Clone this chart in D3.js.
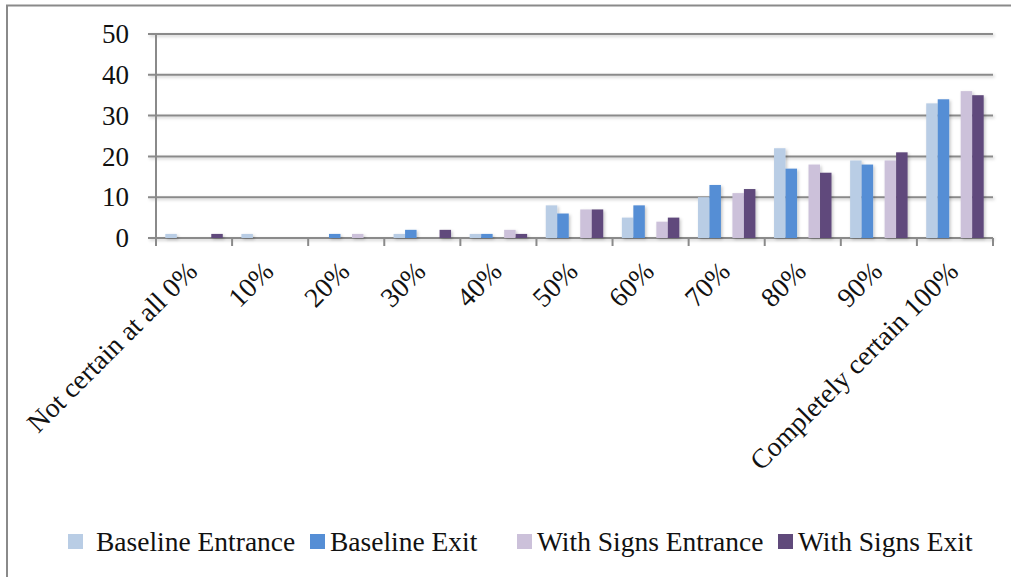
<!DOCTYPE html>
<html><head><meta charset="utf-8">
<script src="https://cdn.jsdelivr.net/npm/d3@7"></script>
<style>body{margin:0;background:#fff}svg{display:block}</style>
</head><body>
<svg id="c" width="1011" height="577"></svg>
<script>
const categories = ["Not certain at all 0%","10%","20%","30%","40%","50%","60%","70%","80%","90%","Completely certain 100%"];
const baselineEntrance = [1,1,0,1,1,8,5,10,22,19,33];
const baselineExit     = [0,0,1,2,1,6,8,13,17,18,34];
const signsEntrance    = [0,0,1,0,2,7,4,11,18,19,36];
const signsExit        = [1,0,0,2,1,7,5,12,16,21,35];
const seriesNames = ["Baseline Entrance","Baseline Exit","","With Signs Entrance","With Signs Exit"];
const seriesColors = ["#B9CDE5","#558ED5",null,"#CCC1DA","#604A7B"];
const yTicks = [0,10,20,30,40,50];

const seriesValues = [baselineEntrance, baselineExit, null, signsEntrance, signsExit];
const FONT = "'Liberation Serif','Times New Roman',serif";
const svg = d3.select("#c");

// frame
svg.append("path").attr("d","M7,577V5.5H1011").attr("fill","none").attr("stroke","#8a8a8a").attr("stroke-width",2);

const defs = svg.append("defs");
const f = defs.append("filter").attr("id","sh").attr("filterUnits","userSpaceOnUse")
  .attr("x",0).attr("y",0).attr("width",1011).attr("height",577);
f.append("feDropShadow").attr("dx",1.5).attr("dy",1.5).attr("stdDeviation",1.5).attr("flood-color","#000").attr("flood-opacity",0.22);

const x = d3.scaleBand().domain(categories).range([156,993]).padding(0);
const y = d3.scaleLinear().domain([0,50]).range([238,34]);
const sub = d3.scaleBand().domain(d3.range(5)).range([0,x.bandwidth()]).paddingInner(0).paddingOuter(0.81);

// gridlines
svg.append("g").attr("filter","url(#sh)").selectAll("line").data(yTicks).join("line")
  .attr("x1",148).attr("x2",993).attr("y1",d=>y(d)).attr("y2",d=>y(d))
  .attr("stroke","#8a8a8a").attr("stroke-width",2);

// y labels
svg.append("g").selectAll("text").data(yTicks).join("text")
  .attr("x",129).attr("y",d=>y(d)).attr("dy","0.34em").attr("text-anchor","end")
  .attr("font-family",FONT).attr("font-size",27).attr("fill","#111").text(d=>d);

// bars
const bars = [];
categories.forEach((c,i)=>{
  seriesValues.forEach((arr,s)=>{ if(arr) bars.push({c, s, v: arr[i]}); });
});
svg.append("g").attr("filter","url(#sh)").selectAll("rect").data(bars).join("rect")
  .attr("x",d=>x(d.c)+sub(d.s)).attr("width",sub.bandwidth())
  .attr("y",d=>y(d.v)).attr("height",d=>y(0)-y(d.v))
  .attr("fill",d=>seriesColors[d.s]);

// axes lines
svg.append("line").attr("x1",156).attr("x2",156).attr("y1",34).attr("y2",246).attr("stroke","#8a8a8a").attr("stroke-width",2);
svg.append("g").selectAll("line").data(d3.range(categories.length+1)).join("line")
  .attr("x1",d=>156+d*x.step()).attr("x2",d=>156+d*x.step()).attr("y1",238).attr("y2",246)
  .attr("stroke","#8a8a8a").attr("stroke-width",2);

// x labels
svg.append("g").selectAll("text").data(categories).join("text")
  .attr("transform",d=>`translate(${x(d)+x.bandwidth()/2+5},273) rotate(-45)`)
  .attr("text-anchor","end").attr("font-family",FONT).attr("font-size",27.5).attr("fill","#111").text(d=>d);

// legend
const legendX = [68,310,null,517,778];
const lg = svg.append("g");
seriesNames.forEach((n,s)=>{
  if(!n) return;
  lg.append("rect").attr("x",legendX[s]).attr("y",534).attr("width",15).attr("height",15).attr("fill",seriesColors[s]);
  lg.append("text").attr("x",legendX[s]+ (s===0?28:20)).attr("y",551).attr("font-family",FONT).attr("font-size",27.5).attr("fill","#111").text(n);
});
</script>
</body></html>
